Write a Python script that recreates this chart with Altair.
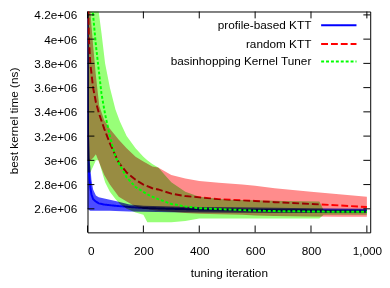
import altair as alt
import pandas as pd

# ---- data ----
series_names = ["profile-based KTT", "random KTT", "basinhopping Kernel Tuner"]

blue_iter = [0, 2, 5, 10, 14, 20, 30, 40, 60, 80, 100, 150, 200, 300, 400, 600, 800, 1000]
blue_mean = [4.35e6, 3.2e6, 2.9e6, 2.78e6, 2.72e6, 2.68e6, 2.66e6, 2.645e6, 2.635e6, 2.63e6, 2.625e6, 2.615e6, 2.607e6, 2.6e6, 2.595e6, 2.59e6, 2.587e6, 2.585e6]
blue_hi = [4.35e6, 3.05e6, 3.03e6, 2.95e6, 2.84e6, 2.76e6, 2.71e6, 2.695e6, 2.685e6, 2.675e6, 2.665e6, 2.635e6, 2.625e6, 2.62e6, 2.615e6, 2.61e6, 2.605e6, 2.6e6]
blue_lo = [2.6e6, 2.6e6, 2.59e6, 2.585e6, 2.585e6, 2.585e6, 2.585e6, 2.585e6, 2.584e6, 2.583e6, 2.582e6, 2.578e6, 2.575e6, 2.572e6, 2.57e6, 2.568e6, 2.566e6, 2.565e6]

red_iter = [0, 5, 10, 20, 30, 42, 60, 80, 112, 140, 172, 200, 232, 253, 300, 350, 400, 470, 554, 600, 670, 800, 900, 1000]
red_hi = [4.6e6, 4.5e6, 4.3e6, 3.95e6, 3.7e6, 3.45e6, 3.33e6, 3.26e6, 3.17e6, 3.1e6, 3.03e6, 2.99e6, 2.95e6, 2.94e6, 2.88e6, 2.85e6, 2.83e6, 2.815e6, 2.8e6, 2.79e6, 2.77e6, 2.74e6, 2.72e6, 2.7e6]
red_mean = [4.5e6, 4.0e6, 3.8e6, 3.6e6, 3.48e6, 3.38e6, 3.26e6, 3.14e6, 2.98e6, 2.9e6, 2.84e6, 2.8e6, 2.77e6, 2.76e6, 2.725e6, 2.705e6, 2.695e6, 2.68e6, 2.67e6, 2.665e6, 2.655e6, 2.64e6, 2.628e6, 2.615e6]
red_lo = [3.0e6, 3.0e6, 3.0e6, 3.02e6, 3.05e6, 2.98e6, 2.88e6, 2.8e6, 2.7e6, 2.66e6, 2.62e6, 2.6e6, 2.59e6, 2.585e6, 2.575e6, 2.565e6, 2.56e6, 2.555e6, 2.55e6, 2.545e6, 2.54e6, 2.537e6, 2.535e6, 2.535e6]

green_iter = [0, 10, 20, 30, 40, 50, 63, 80, 100, 116, 140, 172, 200, 214, 232, 253, 300, 350, 400, 500, 600, 700, 830, 845, 900, 1000]
green_hi = [4.8e6, 4.8e6, 4.7e6, 4.5e6, 4.3e6, 4.05e6, 3.8e6, 3.6e6, 3.42e6, 3.32e6, 3.2e6, 3.1e6, 3.03e6, 3.0e6, 2.97e6, 2.94e6, 2.82e6, 2.74e6, 2.7e6, 2.675e6, 2.67e6, 2.665e6, 2.66e6, 2.59e6, 2.588e6, 2.585e6]
green_mean = [4.7e6, 4.5e6, 4.2e6, 3.95e6, 3.75e6, 3.55e6, 3.38e6, 3.2e6, 3.03e6, 2.96e6, 2.86e6, 2.78e6, 2.74e6, 2.72e6, 2.7e6, 2.68e6, 2.64e6, 2.62e6, 2.605e6, 2.595e6, 2.585e6, 2.58e6, 2.578e6, 2.577e6, 2.576e6, 2.575e6]
green_lo = [2.9e6, 2.9e6, 2.95e6, 3.0e6, 3.0e6, 2.92e6, 2.82e6, 2.74e6, 2.68e6, 2.64e6, 2.6e6, 2.57e6, 2.55e6, 2.49e6, 2.49e6, 2.49e6, 2.49e6, 2.5e6, 2.52e6, 2.52e6, 2.52e6, 2.52e6, 2.52e6, 2.55e6, 2.55e6, 2.55e6]

x_ticks = [0, 200, 400, 600, 800, 1000]
y_ticks = [2.6e6, 2.8e6, 3.0e6, 3.2e6, 3.4e6, 3.6e6, 3.8e6, 4.0e6, 4.2e6]

# ---- style ----
W, H = 288, 225
YMIN, YMAX = 2.4056e6, 4.228e6
FONT = "Liberation Sans"
colors = ["#0000ff", "#ff0000", "#00ff00"]
band_colors = ["#4c4cff", "#ff8c8c", "#98ff78"]
dashes = [[1, 0], [7, 3], [3, 2]]

xs = alt.Scale(domain=[0, 1012], nice=False, zero=False)
ys = alt.Scale(domain=[YMIN, YMAX], nice=False, zero=False)

x_axis = alt.Axis(values=x_ticks, ticks=False, domain=False, grid=False, labelPadding=14,
                  labelFontSize=12, labelFont=FONT, labelColor="black",
                  title="tuning iteration", titleFont=FONT, titleFontSize=12,
                  titleFontWeight="normal", titleColor="black",
                  titleX=144, titleY=41, titleBaseline="middle")
y_axis = alt.Axis(values=y_ticks, ticks=False, domain=False, grid=False, labelPadding=11,
                  labelFontSize=12, labelFont=FONT, labelColor="black",
                  labelExpr="replace(format(datum.value, '.2~e'), 'e+6', 'e+06')",
                  title="best kernel time (ns)", titleFont=FONT, titleFontSize=12,
                  titleFontWeight="normal", titleColor="black",
                  titleX=-75, titleY=111, titleAngle=-90, titleBaseline="middle", titleAlign="center")


def X(field):
    return alt.X(field, scale=xs, axis=x_axis)


def Y(field):
    return alt.Y(field, scale=ys, axis=y_axis)


def frame(it, lo, mean, hi):
    return pd.DataFrame({"iter": it, "lo": lo, "mean": mean, "hi": hi})

dfs = [frame(blue_iter, blue_lo, blue_mean, blue_hi),
       frame(red_iter, red_lo, red_mean, red_hi),
       frame(green_iter, green_lo, green_mean, green_hi)]

layers = []
for i, df in enumerate(dfs):
    base = alt.Chart(df)
    # bands are limited to the plot top by a transform (no clip group, so the
    # multiply blend can mix with the bands underneath)
    area = base.transform_calculate(
        hic=f"min(datum.hi, {YMAX})", loc=f"min(datum.lo, {YMAX})"
    ).mark_area(color=band_colors[i], opacity=1, blend="multiply").encode(
        x=X("iter:Q"), y=Y("loc:Q"), y2="hic:Q",
    )
    line = base.mark_line(color=colors[i], strokeWidth=2, strokeDash=dashes[i], clip=True).encode(
        x=X("iter:Q"), y=Y("mean:Q"),
    )
    layers += [area, line]

# inward ticks on all four sides (gnuplot style)
xt = alt.Chart(pd.DataFrame({"iter": x_ticks}))
yt = alt.Chart(pd.DataFrame({"lo": y_ticks}))
TL = 7
layers += [
    xt.mark_rule(color="black", strokeWidth=1).encode(x=X("iter:Q"), y=alt.value(H), y2=alt.value(H - TL)),
    xt.mark_rule(color="black", strokeWidth=1).encode(x=X("iter:Q"), y=alt.value(0), y2=alt.value(TL)),
    yt.mark_rule(color="black", strokeWidth=1).encode(y=Y("lo:Q"), x=alt.value(0), x2=alt.value(TL)),
    yt.mark_rule(color="black", strokeWidth=1).encode(y=Y("lo:Q"), x=alt.value(W - TL), x2=alt.value(W)),
]

# key (top right, text right-aligned with the sample line to its right)
key_y = [14, 33, 51]
for i, name in enumerate(series_names):
    kd = alt.Chart(pd.DataFrame({"name": [name]}))
    layers.append(kd.mark_text(align="right", baseline="middle", font=FONT, fontSize=12, color="black").encode(
        x=alt.value(228), y=alt.value(key_y[i]), text="name:N"))
    layers.append(kd.mark_rule(color=colors[i], strokeWidth=2, strokeDash=dashes[i]).encode(
        x=alt.value(238), x2=alt.value(274), y=alt.value(key_y[i])))

chart = alt.layer(*layers).properties(
    width=W, height=H,
    autosize=alt.AutoSizeParams(type="none"),
    padding={"left": 81, "top": 1, "right": 12, "bottom": 49},
).configure_view(stroke="black", strokeWidth=1)

chart.save("out.html", embed_options={"renderer": "svg", "actions": False})
